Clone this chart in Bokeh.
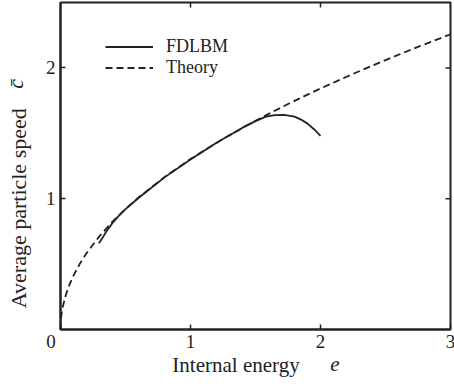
from bokeh.plotting import figure
from bokeh.models import (Range1d, LinearAxis, FixedTicker, Legend, LegendItem)
from bokeh.embed import file_html
from bokeh.resources import INLINE
import math

# Data
theory_e = [0.0, 0.002, 0.005, 0.01, 0.02, 0.04, 0.07, 0.1, 0.15, 0.2, 0.3, 0.4, 0.5,
            0.6, 0.8, 1.0, 1.25, 1.5, 1.75, 2.0, 2.25, 2.5, 2.75, 3.0]
theory_c = [0.0, 0.058, 0.092, 0.130, 0.184, 0.261, 0.345, 0.412, 0.505, 0.583, 0.714,
            0.824, 0.921, 1.009, 1.165, 1.303, 1.457, 1.596, 1.724, 1.843, 1.954,
            2.060, 2.161, 2.257]
fdlbm_e = [0.295, 0.32, 0.35, 0.4, 0.45, 0.5, 0.6, 0.8, 1.0, 1.2, 1.4, 1.5, 1.58,
           1.65, 1.72, 1.8, 1.85, 1.9, 1.95, 2.0]
fdlbm_c = [0.660, 0.695, 0.745, 0.815, 0.870, 0.920, 1.005, 1.163, 1.300, 1.428,
           1.543, 1.593, 1.627, 1.639, 1.641, 1.627, 1.605, 1.574, 1.531, 1.480]
x_ticks = [0, 1, 2, 3]
y_ticks = [1, 2]
x_label = "Internal energy"
x_sym = "e"
y_label = "Average particle speed"
y_sym = "c\u0304"
X_MAX = 3.0
Y_MAX = 2.5

# layout constants (where the axis titles sit, in axis units)
X_LABEL_AT = 1.35
X_SYM_AT = 2.11
Y_LABEL_AT = 0.927
Y_SYM_AT = 1.878

FONT = "Liberation Serif"
INK = "#222222"
NB = "\u00a0"

p = figure(width=454, height=386, output_backend="svg", toolbar_location=None,
           x_range=Range1d(0, X_MAX), y_range=Range1d(0, Y_MAX),
           x_axis_location=None, y_axis_location=None,
           min_border_left=57, min_border_right=7, min_border_top=2, min_border_bottom=57)
p.frame_width = 390
p.frame_height = 327
p.xgrid.visible = False
p.ygrid.visible = False
p.outline_line_color = INK
p.outline_line_width = 2
p.background_fill_color = "white"
p.border_fill_color = "white"


def tick_axis(ticks):
    ax = LinearAxis(ticker=FixedTicker(ticks=ticks, minor_ticks=[]))
    ax.axis_line_color = INK
    ax.axis_line_width = 2
    ax.major_tick_in = 5
    ax.major_tick_out = 0
    ax.major_tick_line_color = INK
    ax.major_tick_line_width = 1.5
    ax.minor_tick_line_color = None
    ax.major_label_text_font = FONT
    ax.major_label_text_color = INK
    ax.major_label_text_font_size = "19px"
    return ax


def text_axis(at, text, size, style, standoff, orientation="horizontal"):
    ax = LinearAxis(ticker=FixedTicker(ticks=[at], minor_ticks=[]))
    ax.major_label_overrides = {at: text}
    ax.axis_line_color = None
    ax.major_tick_line_color = None
    ax.minor_tick_line_color = None
    ax.major_tick_in = 0
    ax.major_tick_out = 0
    ax.major_label_text_font = FONT
    ax.major_label_text_color = INK
    ax.major_label_text_font_size = size
    ax.major_label_text_font_style = style
    ax.major_label_standoff = standoff
    ax.major_label_orientation = orientation
    return ax


xb = tick_axis(x_ticks)
xb.major_label_overrides = {0: "0" + NB * 4}
xb.major_label_standoff = 1
p.add_layout(xb, "below")
p.add_layout(text_axis(X_LABEL_AT, x_label, "21px", "normal", -2), "below")
p.add_layout(text_axis(X_SYM_AT, x_sym, "21px", "italic", -23), "below")

yl = tick_axis(y_ticks)
yl.major_label_standoff = 5
p.add_layout(yl, "left")
p.add_layout(text_axis(Y_LABEL_AT, y_label, "22px", "normal", 11, "vertical"), "left")
p.add_layout(text_axis(Y_SYM_AT, y_sym, "22px", "italic", -25, "vertical"), "left")

# ticks on the top and right frame edges (half of each dash is clipped by the frame)
p.scatter(x=x_ticks[1:], y=[Y_MAX] * 3, marker="dash",
          angle=math.pi / 2, size=10, line_color=INK, line_width=1.5)
p.scatter(x=[X_MAX] * len(y_ticks), y=y_ticks, marker="dash",
          size=10, line_color=INK, line_width=1.5)

r_f = p.line(fdlbm_e, fdlbm_c, line_color=INK, line_width=1.8)
r_t = p.line(theory_e, theory_c, line_color=INK, line_width=1.8, line_dash="7 4")

legend = Legend(items=[LegendItem(label="FDLBM", renderers=[r_f]),
                       LegendItem(label="Theory", renderers=[r_t])],
                location=(45, 251))
legend.border_line_color = None
legend.background_fill_alpha = 0
legend.label_text_font = FONT
legend.label_text_font_size = "18px"
legend.label_text_color = INK
legend.glyph_width = 48
legend.glyph_height = 21
legend.label_height = 21
legend.label_standoff = 13
legend.spacing = 0
legend.padding = 4
legend.margin = 0
p.add_layout(legend, "center")

open("out.html", "w").write(file_html(p, INLINE))
